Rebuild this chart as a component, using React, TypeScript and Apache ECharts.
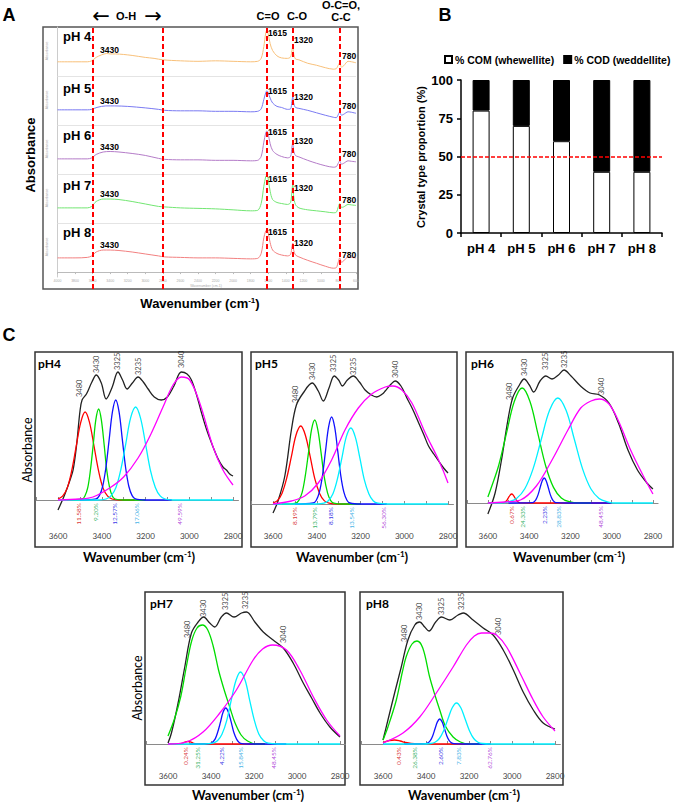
import React, { useEffect, useRef } from "react";
import * as echarts from "echarts";

const SANS = '"Liberation Sans", Arial, Helvetica, sans-serif';
const CAL = 'Lato, "Open Sans", "Noto Sans", sans-serif';

/* ================= Panel A data (wavenumber, local absorbance within band) ================= */
const A_PH = ["pH 4", "pH 5", "pH 6", "pH 7", "pH 8"];
const A_PEAK_LINES = [3600, 2800, 1615, 1320, 780];
const A_PEAK_NAMES = ["3430", "1615", "1320", "780"];

const SPEC_PH4 = [[4000,0.29],[3800,0.29],[3660,0.29],[3610,0.31],[3560,0.38],[3500,0.43],[3440,0.46],[3400,0.45],[3340,0.45],[3250,0.44],[3150,0.42],[3000,0.38],[2900,0.36],[2800,0.33],[2600,0.31],[2400,0.30],[2200,0.31],[2000,0.30],[1800,0.29],[1720,0.30],[1680,0.36],[1650,0.60],[1628,0.88],[1615,0.94],[1600,0.86],[1578,0.66],[1550,0.52],[1500,0.41],[1450,0.37],[1380,0.36],[1345,0.39],[1330,0.52],[1320,0.61],[1310,0.46],[1290,0.35],[1250,0.33],[1150,0.26],[1050,0.22],[950,0.17],[860,0.14],[825,0.15],[800,0.23],[785,0.27],[765,0.18],[740,0.21],[690,0.30],[650,0.29],[600,0.27]];
const SPEC_PH5 = [[4000,0.31],[3800,0.31],[3660,0.31],[3610,0.32],[3550,0.36],[3450,0.39],[3350,0.39],[3200,0.38],[3000,0.35],[2850,0.32],[2780,0.30],[2600,0.29],[2400,0.29],[2200,0.28],[2000,0.28],[1800,0.27],[1720,0.28],[1680,0.33],[1650,0.52],[1628,0.66],[1615,0.70],[1600,0.66],[1578,0.55],[1550,0.45],[1500,0.38],[1450,0.36],[1380,0.32],[1345,0.33],[1330,0.48],[1320,0.58],[1310,0.45],[1290,0.36],[1250,0.34],[1150,0.30],[1050,0.25],[950,0.20],[860,0.16],[825,0.15],[800,0.22],[785,0.27],[765,0.20],[740,0.22],[690,0.27],[650,0.26],[600,0.24]];
const SPEC_PH6 = [[4000,0.31],[3800,0.31],[3660,0.31],[3610,0.33],[3560,0.40],[3480,0.45],[3400,0.46],[3300,0.45],[3150,0.42],[3000,0.38],[2850,0.32],[2780,0.30],[2600,0.29],[2400,0.29],[2200,0.28],[2000,0.28],[1800,0.27],[1720,0.28],[1680,0.36],[1650,0.65],[1628,0.84],[1615,0.88],[1600,0.82],[1578,0.62],[1550,0.48],[1500,0.40],[1450,0.36],[1380,0.33],[1345,0.36],[1330,0.55],[1320,0.65],[1310,0.48],[1290,0.38],[1250,0.35],[1150,0.28],[1050,0.22],[950,0.17],[860,0.14],[825,0.15],[800,0.23],[785,0.27],[765,0.20],[740,0.22],[690,0.27],[650,0.26],[600,0.25]];
const SPEC_PH7 = [[4000,0.31],[3800,0.31],[3660,0.31],[3610,0.34],[3560,0.44],[3480,0.49],[3400,0.49],[3300,0.48],[3150,0.44],[3000,0.39],[2850,0.34],[2780,0.33],[2600,0.31],[2400,0.30],[2200,0.29],[2000,0.27],[1800,0.25],[1720,0.26],[1680,0.40],[1650,0.75],[1628,0.95],[1615,0.98],[1600,0.90],[1578,0.65],[1550,0.48],[1500,0.42],[1450,0.40],[1380,0.38],[1345,0.42],[1330,0.65],[1320,0.80],[1310,0.55],[1290,0.38],[1250,0.31],[1150,0.27],[1050,0.25],[950,0.23],[860,0.21],[825,0.22],[800,0.34],[785,0.40],[765,0.32],[740,0.33],[690,0.38],[650,0.37],[600,0.36]];
const SPEC_PH8 = [[4000,0.29],[3800,0.29],[3660,0.30],[3610,0.33],[3560,0.41],[3480,0.45],[3400,0.45],[3300,0.44],[3150,0.41],[3000,0.37],[2850,0.33],[2780,0.31],[2600,0.30],[2400,0.29],[2200,0.29],[2000,0.28],[1800,0.27],[1720,0.28],[1680,0.38],[1650,0.70],[1628,0.84],[1615,0.86],[1600,0.80],[1578,0.60],[1550,0.45],[1500,0.38],[1450,0.35],[1380,0.33],[1345,0.36],[1330,0.52],[1320,0.59],[1310,0.45],[1290,0.35],[1250,0.31],[1150,0.24],[1050,0.18],[950,0.12],[860,0.08],[825,0.09],[800,0.22],[785,0.29],[765,0.20],[740,0.23],[690,0.31],[650,0.30],[600,0.29]];
const A_SPECTRA = [SPEC_PH4, SPEC_PH5, SPEC_PH6, SPEC_PH7, SPEC_PH8];

/* ================= Panel B data ================= */
const B_CATS = ["pH 4", "pH 5", "pH 6", "pH 7", "pH 8"];
const B_COM = [80, 70, 60, 40, 40];
const B_COD = [20, 30, 40, 60, 60];
const B_REF = 50;
const B_NAMES = ["% COM (whewellite)", "% COD (weddellite)"];

/* ================= Panel C data (wavenumber, height above baseline) ================= */
const C_TICKS = [3600, 3400, 3200, 3000, 2800];
const C_MINOR = [3700, 3600, 3500, 3400, 3300, 3200, 3100, 3000, 2900, 2800];
const C_NAMES = ["pH4", "pH5", "pH6", "pH7", "pH8"];

const PH4_BLACK = [[3600,-10],[3570,5],[3545,20],[3531,30],[3515,55],[3500,88],[3490,100],[3470,106],[3445,118],[3425,125],[3402,117],[3380,101],[3352,113],[3326,128],[3305,120],[3284,111],[3260,117],[3234,123],[3210,118],[3188,111],[3160,103],[3128,100],[3100,103],[3070,114],[3036,128],[3010,126],[2990,120],[2965,104],[2945,88],[2920,70],[2891,53],[2870,42],[2846,33],[2830,30],[2815,26],[2800,24]];
const PH4_RED = [[3600,1],[3579,3.9],[3558,11.9],[3538,28.6],[3517,53.4],[3496,77.7],[3476,88],[3456,77.7],[3435,53.4],[3414,28.6],[3394,11.9],[3373,3.9],[3353,1],[3320,0],[3250,0]];
const PH4_GREEN = [[3560,0],[3489,1],[3477,4],[3464,12.3],[3452,29.5],[3439,55.2],[3427,80.3],[3414,91],[3402,80.3],[3389,55.2],[3377,29.5],[3364,12.3],[3352,4],[3339,1],[3300,0],[3200,0]];
const PH4_BLUE = [[3500,0],[3426,1.1],[3411,4.4],[3396,13.5],[3381,32.5],[3366,60.7],[3351,88.3],[3336,100],[3321,88.3],[3306,60.7],[3291,32.5],[3276,13.5],[3261,4.4],[3246,1.1],[3200,0],[3080,0]];
const PH4_CYAN = [[3600,0],[3420,0],[3380,1],[3358,4.1],[3335,12.6],[3313,30.2],[3290,56.4],[3268,82.1],[3245,93],[3223,82.1],[3200,56.4],[3178,30.2],[3155,12.6],[3133,4.1],[3110,1],[3070,0],[2800,0]];
const PH4_MAGENTA = [[3600,0],[3500,1],[3440,3],[3364,12],[3300,23],[3234,42],[3173,67],[3120,93],[3074,115],[3036,123],[2998,120],[2952,97],[2891,53],[2846,30],[2800,15]];
const PH4_PEAKS = [[3501,103,"3480"],[3425,127,"3430"],[3326,130,"3325"],[3230,125,"3235"],[3036,132,"3040"]];
const PH4_PCT = [[3506,"11.58%"],[3429,"9.20%"],[3344,"12.57%"],[3242,"17.06%"],[3044,"49.59%"]];

const PH5_BLACK = [[3600,-9],[3577,3],[3546,28],[3516,74],[3493,99],[3462,111],[3421,121],[3393,113],[3370,103],[3344,116],[3320,128],[3300,124],[3283,118],[3260,124],[3233,128],[3205,122],[3179,114],[3150,109],[3126,107],[3100,110],[3087,113],[3060,120],[3042,123],[3015,118],[2988,106],[2960,94],[2934,81],[2910,69],[2889,58],[2865,50],[2843,43],[2820,36],[2800,31]];
const PH5_RED = [[3600,1],[3580,3.4],[3559,10.6],[3538,25.3],[3516,47.3],[3495,68.8],[3473,78],[3452,68.8],[3430,47.3],[3409,25.3],[3387,10.6],[3366,3.4],[3344,0.9],[3300,0],[3250,0]];
const PH5_GREEN = [[3560,0],[3496,0.9],[3482,3.7],[3467,11.4],[3453,27.3],[3438,50.9],[3424,74.1],[3409,84],[3395,74.1],[3380,50.9],[3366,27.3],[3351,11.4],[3337,3.7],[3322,0.9],[3280,0],[3200,0]];
const PH5_BLUE = [[3500,0],[3416,1],[3402,3.8],[3388,11.8],[3374,28.2],[3360,52.8],[3346,76.8],[3332,87],[3318,76.8],[3304,52.8],[3290,28.2],[3276,11.8],[3262,3.8],[3248,1],[3200,0],[3080,0]];
const PH5_CYAN = [[3600,0],[3400,0],[3367,0.8],[3347,3.3],[3326,10.3],[3306,24.7],[3285,46.1],[3265,67.1],[3244,76],[3224,67.1],[3203,46.1],[3183,24.7],[3162,10.3],[3142,3.3],[3121,0.8],[3080,0],[2800,0]];
const PH5_MAGENTA = [[3600,0],[3516,3],[3455,8],[3393,21],[3332,44],[3271,74],[3210,96],[3149,110],[3087,117],[3052,118],[3011,114],[2965,101],[2904,71],[2843,44],[2800,21]];
const PH5_PEAKS = [[3497,101,"3480"],[3421,124,"3430"],[3325,132,"3325"],[3233,129,"3235"],[3042,126,"3040"]];
const PH5_PCT = [[3504,"8.19%"],[3412,"13.79%"],[3335,"8.18%"],[3240,"13.54%"],[3095,"56.30%"]];

const PH6_BLACK = [[3600,-11],[3565,10],[3534,43],[3503,83],[3480,105],[3450,117],[3424,124],[3399,118],[3378,111],[3347,122],[3319,127],[3289,124],[3258,128],[3231,133],[3197,127],[3151,117],[3105,110],[3059,108],[3013,100],[2967,80],[2921,53],[2875,33],[2829,20],[2800,14]];
const PH6_RED = [[3600,0],[3530,0.1],[3522,0.4],[3515,1.2],[3507,2.9],[3500,5.5],[3492,7.9],[3485,9],[3477,7.9],[3470,5.5],[3462,2.9],[3455,1.2],[3447,0.4],[3440,0.1],[3400,0],[3000,0]];
const PH6_GREEN = [[3600,6],[3586,14],[3548,37.3],[3510,69.7],[3472,101.5],[3434,115],[3396,101.5],[3358,69.7],[3320,37.3],[3282,15.6],[3244,5],[3206,1.3],[3160,0],[3100,0]];
const PH6_BLUE = [[3500,0],[3387,0.3],[3377,1.1],[3367,3.4],[3357,8.1],[3347,15.2],[3337,22.1],[3327,25],[3317,22.1],[3307,15.2],[3297,8.1],[3287,3.4],[3277,1.1],[3267,0.3],[3220,0],[3000,0]];
const PH6_CYAN = [[3600,0],[3540,0],[3501,1.2],[3461,4.6],[3421,14.2],[3381,34.1],[3341,63.7],[3301,92.7],[3261,105],[3221,92.7],[3181,63.7],[3141,34.1],[3101,14.2],[3061,4.6],[3021,1.2],[2980,0],[2800,0]];
const PH6_MAGENTA = [[3600,0],[3520,1],[3442,3],[3365,17],[3289,43],[3212,73],[3150,95],[3100,102],[3059,104],[3013,99],[2967,82],[2906,52],[2844,26],[2800,9]];
const PH6_PEAKS = [[3496,103,"3480"],[3422,127,"3430"],[3319,133,"3325"],[3231,135,"3235"],[3051,108,"3040"]];
const PH6_PCT = [[3485,"0.67%"],[3434,"24.33%"],[3327,"2.23%"],[3258,"28.83%"],[3056,"48.45%"]];

const PH7_BLACK = [[3600,1],[3584,11],[3553,41],[3522,77],[3491,111],[3460,122],[3434,127],[3406,121],[3383,117],[3352,127],[3328,131],[3293,127],[3258,131],[3235,132],[3196,122],[3157,112],[3111,104],[3064,96],[3018,81],[2971,61],[2932,46],[2893,31],[2847,17],[2800,7]];
const PH7_RED = [[3600,0],[3545,0.2],[3530,1],[3518,2.2],[3507,2.5],[3496,2.2],[3484,1],[3469,0.2],[3430,0],[3150,0]];
const PH7_GREEN = [[3600,8],[3570,25],[3540,48],[3515,77],[3490,103],[3465,116],[3440,119],[3415,114],[3390,98],[3365,74],[3340,55],[3313,37],[3290,22],[3260,9],[3230,3],[3190,0],[3150,0]];
const PH7_BLUE = [[3500,0],[3406,0.4],[3394,1.6],[3381,4.9],[3369,11.7],[3356,21.8],[3344,31.8],[3331,36],[3319,31.8],[3306,21.8],[3294,11.7],[3281,4.9],[3269,1.6],[3256,0.4],[3200,0],[3050,0]];
const PH7_CYAN = [[3600,0],[3430,0],[3392,0.8],[3370,3.2],[3349,9.7],[3327,23.4],[3306,43.7],[3284,63.5],[3263,72],[3241,63.5],[3220,43.7],[3198,23.4],[3177,9.7],[3155,3.2],[3134,0.8],[3090,0],[2800,0]];
const PH7_MAGENTA = [[3600,0],[3515,2],[3437,12],[3359,31],[3282,54],[3204,84],[3160,95],[3114,99],[3049,94],[2987,74],[2924,47],[2862,24],[2800,8]];
const PH7_PEAKS = [[3507,106,"3480"],[3434,127,"3430"],[3331,134,"3325"],[3238,135,"3235"],[3061,101,"3040"]];
const PH7_PCT = [[3518,"0.24%"],[3465,"31.25%"],[3352,"4.22%"],[3263,"15.84%"],[3108,"48.45%"]];

const PH8_BLACK = [[3600,4],[3577,24],[3546,51],[3515,77],[3484,104],[3452,119],[3429,122],[3406,117],[3386,113],[3355,122],[3328,127],[3289,124],[3251,129],[3227,131],[3181,124],[3134,116],[3088,109],[3041,94],[2994,74],[2948,52],[2901,34],[2855,21],[2800,15]];
const PH8_RED = [[3600,1.5],[3570,3.5],[3546,4],[3520,3],[3495,1.5],[3470,0.5],[3440,0],[3200,0]];
const PH8_GREEN = [[3600,4],[3577,17],[3538,44],[3510,72],[3491,88],[3465,100],[3442,103],[3415,96],[3383,67],[3360,50],[3336,34],[3310,18],[3274,7],[3240,2],[3200,0],[3150,0]];
const PH8_BLUE = [[3500,0],[3402,0.3],[3391,1.1],[3380,3.4],[3369,8.1],[3358,15.2],[3347,22.1],[3336,25],[3325,22.1],[3314,15.2],[3303,8.1],[3292,3.4],[3281,1.1],[3270,0.3],[3220,0],[3100,0]];
const PH8_CYAN = [[3600,0],[3420,0],[3378,0.5],[3358,1.8],[3338,5.5],[3318,13.3],[3298,24.9],[3278,36.2],[3258,41],[3238,36.2],[3218,24.9],[3198,13.3],[3178,5.5],[3158,1.8],[3138,0.5],[3100,0],[2800,0]];
const PH8_MAGENTA = [[3600,1],[3507,11],[3429,27],[3352,51],[3274,77],[3212,99],[3175,108],[3142,111],[3105,111],[3072,109],[3025,97],[2963,71],[2901,44],[2855,27],[2800,13]];
const PH8_PEAKS = [[3499,102,"3480"],[3432,124,"3430"],[3328,129,"3325"],[3235,134,"3235"],[3064,109,"3040"]];
const PH8_PCT = [[3530,"0.43%"],[3452,"26.38%"],[3333,"2.60%"],[3251,"7.83%"],[3106,"62.76%"]];

const C_PANELS = [
  { black: PH4_BLACK, comps: [PH4_RED, PH4_GREEN, PH4_BLUE, PH4_CYAN, PH4_MAGENTA], peaks: PH4_PEAKS, pcts: PH4_PCT },
  { black: PH5_BLACK, comps: [PH5_RED, PH5_GREEN, PH5_BLUE, PH5_CYAN, PH5_MAGENTA], peaks: PH5_PEAKS, pcts: PH5_PCT },
  { black: PH6_BLACK, comps: [PH6_RED, PH6_GREEN, PH6_BLUE, PH6_CYAN, PH6_MAGENTA], peaks: PH6_PEAKS, pcts: PH6_PCT },
  { black: PH7_BLACK, comps: [PH7_RED, PH7_GREEN, PH7_BLUE, PH7_CYAN, PH7_MAGENTA], peaks: PH7_PEAKS, pcts: PH7_PCT },
  { black: PH8_BLACK, comps: [PH8_RED, PH8_GREEN, PH8_BLUE, PH8_CYAN, PH8_MAGENTA], peaks: PH8_PEAKS, pcts: PH8_PCT },
];

/* ================= Layout / style ================= */
const A_COLORS = ["#f8c07a", "#7a7af2", "#b47cc8", "#72e672", "#f28080"];
const A_ANN = [
  { ph: 36, b3430: 50, b1615: 33, b1320: 40, b780: 56 },
  { ph: 88, b3430: 101, b1615: 91, b1320: 97, b780: 106 },
  { ph: 135, b3430: 147, b1615: 132, b1320: 141, b780: 154 },
  { ph: 185, b3430: 194, b1615: 179, b1320: 188, b780: 200 },
  { ph: 232, b3430: 245, b1615: 232, b1320: 243, b780: 255 },
];
const C_COLORS = ["#ff0000", "#00dd00", "#1010ff", "#00f0ff", "#ff00ff"];
const C_PCT_COLORS = ["#d00000", "#00a040", "#0000e0", "#10a0e0", "#a020d0"];
const C_LAYOUT = [
  { frame: [35, 352, 207, 195], p3600: 58, p2800: 233, top: 352, axisY: 529, base: 500, title: [139, 557], ph: [38, 363] },
  { frame: [251, 352, 206, 195], p3600: 273, p2800: 448, top: 352, axisY: 529, base: 504, title: [352, 557], ph: [255, 363] },
  { frame: [466, 352, 207, 195], p3600: 489, p2800: 663, top: 352, axisY: 529, base: 503, title: [569, 557], ph: [471, 363] },
  { frame: [145, 592, 200, 193], p3600: 168, p2800: 340, top: 592, axisY: 769, base: 744, title: [248, 795], ph: [150, 603] },
  { frame: [360, 592, 203, 193], p3600: 383, p2800: 555, top: 592, axisY: 769, base: 744, title: [464, 795], ph: [366, 603] },
];
const C_XMAX = 3700;
const C_XMIN = 2775;
const plain = (v: number) => String(v);

function txt(x: number, y: number, text: string, o: any = {}) {
  return {
    type: "text",
    x, y,
    rotation: o.rotation || 0,
    silent: true,
    z: 50,
    style: {
      text,
      fill: o.fill || "#000",
      fontSize: o.fontSize || 12,
      fontWeight: o.fontWeight || "normal",
      fontFamily: o.fontFamily || SANS,
      align: o.align || "left",
      verticalAlign: o.verticalAlign || "middle",
      rich: o.rich,
    },
  };
}

function wavenumberTitle(x: number, y: number, size: number, family: string) {
  return txt(x, y, "Wavenumber (cm{sup|-1})", {
    fontSize: size, fontWeight: "bold", fontFamily: family, align: "center",
    rich: { sup: { fontSize: Math.round(size * 0.65), fontWeight: "bold", fontFamily: family, verticalAlign: "top", fill: "#000", padding: [0, 0, 6, 0] } },
  });
}

function buildOption() {
  const grid: any[] = [];
  const xAxis: any[] = [];
  const yAxis: any[] = [];
  const series: any[] = [];
  const graphic: any[] = [];

  /* ---------- Panel A ---------- */
  const aLeft = 57.5, aRightPx = 356;
  grid.push({ left: aLeft, width: aRightPx - aLeft, top: 27, height: 250 });
  xAxis.push({
    gridIndex: 0, type: "value", min: 600, max: 4000, interval: 200, inverse: true,
    axisLine: { lineStyle: { color: "#bbb" } },
    axisTick: { length: 2, lineStyle: { color: "#bbb" } },
    axisLabel: { fontSize: 3.5, color: "#aaa", margin: 2, fontFamily: SANS, formatter: plain },
    splitLine: { show: false },
  });
  yAxis.push({
    gridIndex: 0, type: "value", min: -0.1, max: 5,
    axisLine: { show: true, lineStyle: { color: "#ccc" } },
    axisTick: { show: false }, axisLabel: { show: false }, splitLine: { show: false },
  });
  A_SPECTRA.forEach((s, i) => {
    const ser: any = {
      type: "line", xAxisIndex: 0, yAxisIndex: 0, silent: true,
      data: s.map(([w, v]) => [w, v + (4 - i)]),
      smooth: 0.3, symbol: "none",
      lineStyle: { color: A_COLORS[i], width: 1 },
    };
    if (i === 0) {
      ser.markLine = {
        silent: true, symbol: ["none", "none"], label: { show: false },
        lineStyle: { color: "#e4e4e4", type: "solid", width: 1 },
        data: [1, 2, 3, 4].map((v) => ({ yAxis: v })),
      };
    }
    series.push(ser);
  });
  // dashed peak lines (full frame height)
  grid.push({ left: aLeft, width: aRightPx - aLeft, top: 27, height: 262 });
  xAxis.push({ gridIndex: 1, type: "value", min: 600, max: 4000, inverse: true, show: false });
  yAxis.push({ gridIndex: 1, type: "value", min: 0, max: 1, show: false });
  series.push({
    type: "line", xAxisIndex: 1, yAxisIndex: 1, data: [[600, 0]], symbol: "none", silent: true,
    lineStyle: { width: 0 },
    markLine: {
      silent: true, symbol: ["none", "none"], label: { show: false },
      lineStyle: { color: "#ff0000", type: [5, 3], width: 2 },
      data: A_PEAK_LINES.map((v) => ({ xAxis: v })),
    },
  });
  graphic.push({ type: "rect", silent: true, shape: { x: 43, y: 27, width: 315, height: 262 }, style: { fill: "transparent", stroke: "#555", lineWidth: 1.5 } });
  A_PH.forEach((p, i) => {
    const a = A_ANN[i];
    graphic.push(txt(63, a.ph, p, { fontSize: 13, fontWeight: "bold" }));
    graphic.push(txt(100, a.b3430, A_PEAK_NAMES[0], { fontSize: 8.5, fontWeight: "bold" }));
    graphic.push(txt(268, a.b1615, A_PEAK_NAMES[1], { fontSize: 8.5, fontWeight: "bold" }));
    graphic.push(txt(294, a.b1320, A_PEAK_NAMES[2], { fontSize: 8.5, fontWeight: "bold" }));
    graphic.push(txt(342, a.b780, A_PEAK_NAMES[3], { fontSize: 8.5, fontWeight: "bold" }));
    graphic.push(txt(47, 51 + i * 49, "Absorbance", { fontSize: 3.5, fill: "#aaa", align: "center", rotation: Math.PI / 2 }));
  });
  graphic.push(txt(206, 286, "Wavenumber (cm-1)", { fontSize: 3.5, fill: "#aaa", align: "center" }));
  graphic.push(txt(9, 15, "A", { fontSize: 18, fontWeight: "bold", align: "center" }));
  graphic.push(txt(101, 16, "←", { fontSize: 21, align: "center", fontFamily: '"DejaVu Sans", sans-serif' }));
  graphic.push(txt(126, 16, "O-H", { fontSize: 11, fontWeight: "bold", align: "center" }));
  graphic.push(txt(153, 16, "→", { fontSize: 21, align: "center", fontFamily: '"DejaVu Sans", sans-serif' }));
  graphic.push(txt(268, 16, "C=O", { fontSize: 11, fontWeight: "bold", align: "center" }));
  graphic.push(txt(297, 16, "C-O", { fontSize: 11, fontWeight: "bold", align: "center" }));
  graphic.push(txt(341, 5, "O-C=O,", { fontSize: 11, fontWeight: "bold", align: "center" }));
  graphic.push(txt(341, 17, "C-C", { fontSize: 11, fontWeight: "bold", align: "center" }));
  graphic.push(txt(30, 155, "Absorbance", { fontSize: 13, fontWeight: "bold", align: "center", rotation: Math.PI / 2 }));
  graphic.push(wavenumberTitle(200, 303, 13, SANS));

  /* ---------- Panel B ---------- */
  grid.push({ left: 461, width: 201, top: 80, height: 153 });
  xAxis.push({
    gridIndex: 2, type: "category", data: B_CATS,
    axisLine: { lineStyle: { color: "#000", width: 1.5 } },
    axisTick: { show: true, length: 4, lineStyle: { color: "#000", width: 1.5 } },
    axisLabel: { fontWeight: "bold", fontSize: 13, color: "#000", fontFamily: SANS, margin: 9 },
  });
  yAxis.push({
    gridIndex: 2, type: "value", min: 0, max: 100, interval: 25,
    axisLine: { show: true, lineStyle: { color: "#000", width: 1.5 } },
    axisTick: { show: true, length: 4, lineStyle: { color: "#000", width: 1.5 } },
    axisLabel: { fontWeight: "bold", fontSize: 13, color: "#000", fontFamily: SANS, margin: 8 },
    splitLine: { show: false },
  });
  series.push({
    name: B_NAMES[0], type: "bar", xAxisIndex: 2, yAxisIndex: 2, stack: "cr", barWidth: 17, silent: true,
    data: B_COM, itemStyle: { color: "#ffffff", borderColor: "#000", borderWidth: 1 },
    markLine: {
      silent: true, symbol: ["none", "none"], label: { show: false },
      lineStyle: { color: "#ff0000", type: [4, 2], width: 1.5 },
      data: [{ yAxis: B_REF }],
    },
  });
  series.push({
    name: B_NAMES[1], type: "bar", xAxisIndex: 2, yAxisIndex: 2, stack: "cr", barWidth: 17, silent: true,
    data: B_COD, itemStyle: { color: "#000000", borderColor: "#000", borderWidth: 1 },
  });
  graphic.push(txt(445, 15, "B", { fontSize: 18, fontWeight: "bold", align: "center" }));
  graphic.push(txt(421, 157, "Crystal type proportion (%)", { fontSize: 11, fontWeight: "bold", align: "center", rotation: Math.PI / 2 }));

  /* ---------- Panel C ---------- */
  graphic.push(txt(9, 335, "C", { fontSize: 18, fontWeight: "bold", align: "center" }));
  C_PANELS.forEach((p, i) => {
    const L = C_LAYOUT[i];
    const gi = 3 + i;
    const k = (L.p2800 - L.p3600) / 800;
    const left = L.p3600 - (C_XMAX - 3600) * k;
    const rightPx = L.p2800 + (2800 - C_XMIN) * k;
    grid.push({ left, width: rightPx - left, top: L.top, height: L.axisY - L.top });
    xAxis.push({
      gridIndex: gi, type: "value", min: C_XMIN, max: C_XMAX, inverse: true,
      axisLine: { lineStyle: { color: "#8a8a8a", width: 1 } },
      axisTick: { inside: true, length: 3, customValues: C_MINOR, lineStyle: { color: "#8a8a8a" } },
      axisLabel: { customValues: C_TICKS, fontSize: 8, color: "#444", fontFamily: CAL, margin: 3, formatter: plain },
      splitLine: { show: false },
    });
    yAxis.push({ gridIndex: gi, type: "value", min: -(L.axisY - L.base), max: L.base - L.top, show: false });
    series.push({
      type: "line", xAxisIndex: gi, yAxisIndex: gi, data: p.black, smooth: 0.35, symbol: "none", silent: true,
      lineStyle: { color: "#222", width: 1.3 },
    });
    p.comps.forEach((c, j) => {
      series.push({
        type: "line", xAxisIndex: gi, yAxisIndex: gi, data: c, smooth: 0.35, symbol: "none", silent: true,
        lineStyle: { color: C_COLORS[j], width: 1.3 },
      });
    });
    series.push({
      type: "scatter", xAxisIndex: gi, yAxisIndex: gi, silent: true, symbolSize: 1,
      itemStyle: { color: "rgba(0,0,0,0)" },
      data: p.peaks.map(([w, h, t]) => ({ value: [w, h], name: t })),
      label: { show: true, formatter: "{b}", position: "inside", rotate: 90, align: "left", verticalAlign: "middle", fontSize: 7.5, color: "#111", fontFamily: CAL },
    });
    series.push({
      type: "scatter", xAxisIndex: gi, yAxisIndex: gi, silent: true, symbolSize: 1,
      itemStyle: { color: "rgba(0,0,0,0)" },
      data: p.pcts.map(([w, t], j) => ({ value: [w, -3], name: t, label: { color: C_PCT_COLORS[j] } })),
      label: { show: true, formatter: "{b}", position: "inside", rotate: 90, align: "right", verticalAlign: "middle", fontSize: 6.5, fontFamily: CAL },
    });
    const [fx, fy, fw, fh] = L.frame;
    graphic.push({ type: "rect", silent: true, shape: { x: fx, y: fy, width: fw, height: fh }, style: { fill: "transparent", stroke: "#333", lineWidth: 1.5 } });
    graphic.push(txt(L.ph[0], L.ph[1], C_NAMES[i], { fontSize: 12, fontWeight: "bold", fontFamily: CAL }));
    graphic.push(wavenumberTitle(L.title[0], L.title[1], 13, CAL));
  });
  graphic.push(txt(27, 450, "Absorbance", { fontSize: 12.5, fontFamily: CAL, align: "center", rotation: Math.PI / 2 }));
  graphic.push(txt(137, 688, "Absorbance", { fontSize: 12.5, fontFamily: CAL, align: "center", rotation: Math.PI / 2 }));

  return {
    animation: false,
    backgroundColor: "#ffffff",
    legend: {
      data: B_NAMES, left: 444, top: 54, itemWidth: 7, itemHeight: 7, itemGap: 9, icon: "rect", padding: 0,
      selectedMode: false,
      textStyle: { fontFamily: SANS, fontWeight: "bold", fontSize: 10.5, color: "#000", padding: [0, 0, 0, -2] },
    },
    grid, xAxis, yAxis, series, graphic,
  };
}

export default function App() {
  const ref = useRef<HTMLDivElement>(null);
  useEffect(() => {
    if (!ref.current) return;
    const chart = echarts.init(ref.current, null, { renderer: "svg" });
    chart.setOption(buildOption() as any);
    return () => chart.dispose();
  }, []);
  return (
    <div
      ref={ref}
      style={{ position: "fixed", left: 0, top: 0, width: 675, height: 802, background: "#fff" }}
    />
  );
}
